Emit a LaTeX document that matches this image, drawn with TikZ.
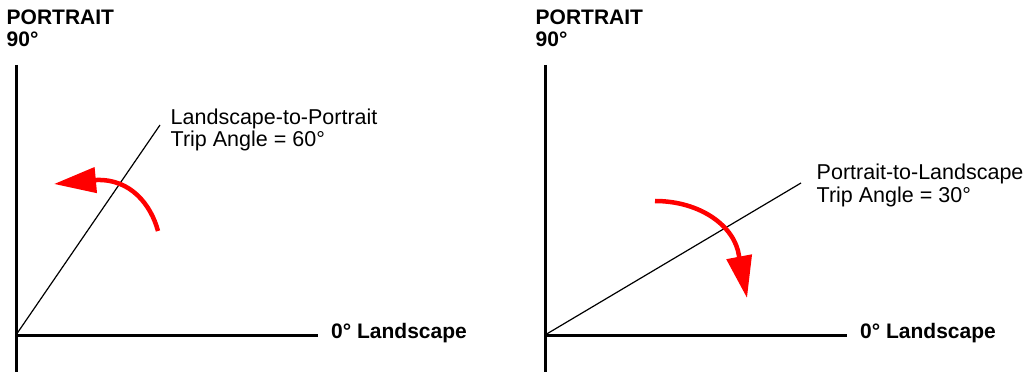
\documentclass[tikz,border=0pt]{standalone}
\usepackage{fontspec}
\setmainfont{Liberation Sans}
\usetikzlibrary{arrows.meta}
\begin{document}
\begin{tikzpicture}[x=1pt,y=-1pt,
  axis/.style={line width=3pt},
  trip/.style={line width=1.2pt},
  turn/.style={red, line width=4.5pt, -{Triangle[length=42pt,width=25pt]}},
  lbl/.style={anchor=base west, inner sep=0pt, font=\fontsize{21.5}{24}\selectfont},
  blbl/.style={anchor=base west, inner sep=0pt, font=\fontsize{21}{24}\selectfont\bfseries}]
\useasboundingbox (0,0) rectangle (1026,379);
% left diagram
\coordinate (o1) at (16,335);
\coordinate (t1) at (16,65);
\coordinate (b1) at (16,372);
\coordinate (r1) at (318,336);
\coordinate (e1) at (160,125);
\draw[axis] (t1) -- (b1);
\draw[axis] (16,336) -- (r1);
\draw[trip] (o1) -- (e1);
\node[blbl] (p1) at (6.5,25) {PORTRAIT};
\node[blbl] (n1) at (6.5,47) {90°};
\node[blbl] (l1) at (331,339) {0° Landscape};
\node[lbl] (a1) at (170.5,125) {Landscape-to-Portrait};
\node[lbl] (a2) at (170.5,147) {Trip Angle = 60°};
\coordinate (s1) at (158,231);
\coordinate (k1) at (97,180);
\coordinate (h1) at (54,184);
\draw[turn] (s1) .. controls (151,205) and (131,179) .. (k1) -- (h1);
% right diagram
\coordinate (o2) at (545,335);
\coordinate (t2) at (545,65);
\coordinate (b2) at (545,372);
\coordinate (r2) at (847,336);
\coordinate (e2) at (801,183);
\draw[axis] (t2) -- (b2);
\draw[axis] (545,336) -- (r2);
\draw[trip] (o2) -- (e2);
\node[blbl] (p2) at (535.5,25) {PORTRAIT};
\node[blbl] (n2) at (535.5,47) {90°};
\node[blbl] (l2) at (860,339) {0° Landscape};
\node[lbl] (c1) at (816.5,180) {Portrait-to-Landscape};
\node[lbl] (c2) at (816.5,203) {Trip Angle = 30°};
\coordinate (s2) at (655,201);
\coordinate (k2) at (739,256);
\coordinate (h2) at (747,298);
\draw[turn] (s2) .. controls (700,201) and (735,226) .. (k2) -- (h2);
\end{tikzpicture}
\end{document}
